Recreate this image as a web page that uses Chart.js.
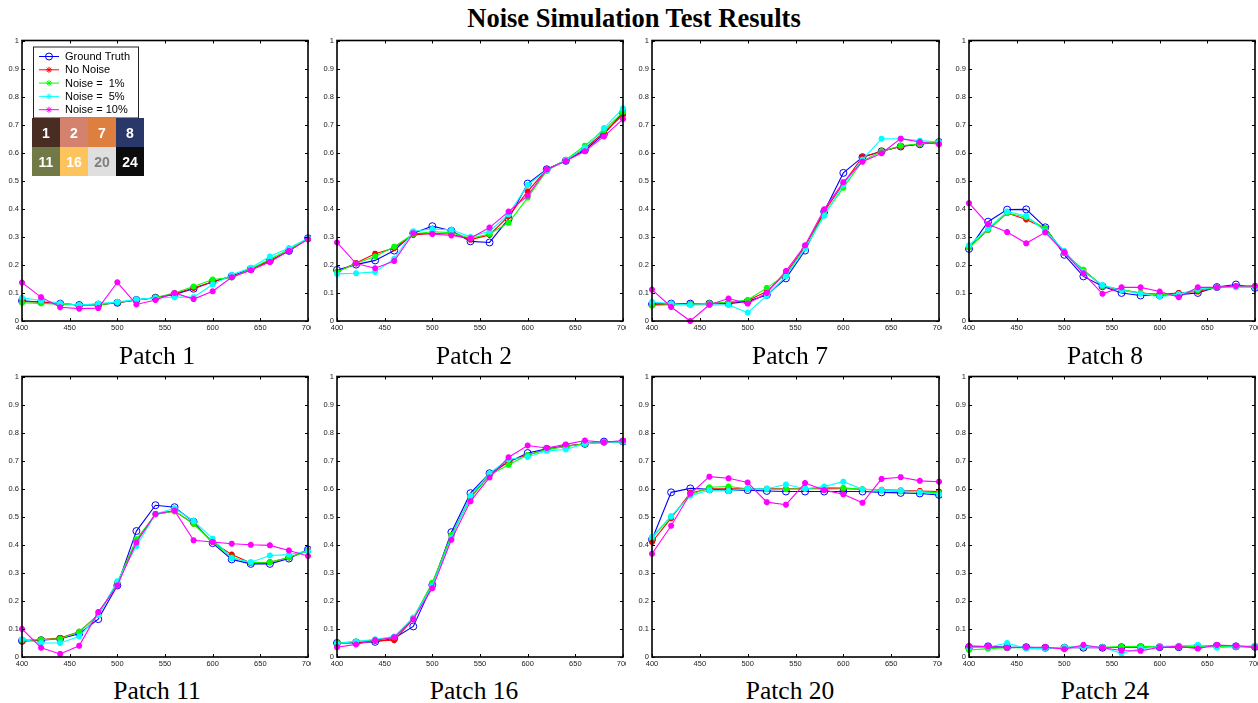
<!DOCTYPE html>
<html>
<head>
<meta charset="utf-8">
<script src="https://cdn.jsdelivr.net/npm/chart.js@4.4.1/dist/chart.umd.min.js"></script>
<style>
  html, body { margin:0; padding:0; background:#fff; }
  body { width:1258px; height:703px; position:relative; overflow:hidden; }
  .wrap { position:absolute; overflow:hidden; }
  .wrap canvas { position:absolute; left:0; top:0; }
  .txt { position:absolute; white-space:pre; line-height:1; color:#000; transform:translateX(-50%); }
  #title { font:bold 26.5px 'Liberation Serif', serif; }
  .plabel { font:25.5px 'Liberation Serif', serif; }
  #swatches { position:absolute; left:32px; top:118px; width:112px; height:58px; display:grid;
              grid-template-columns:repeat(4,28px); grid-template-rows:repeat(2,29px); }
  #swatches div { display:flex; align-items:center; justify-content:center;
                  font:bold 14px 'Liberation Sans', Arial, sans-serif; color:#fff; }
</style>
</head>
<body>
<div id="title" class="txt" style="left:634px; top:3px;">Noise Simulation Test Results</div>
<div id="panels"></div>
<div id="swatches"></div>
<script>
// ---------- data ----------
const wavelengths = [400,420,440,460,480,500,520,540,560,580,600,620,640,660,680,700];
const xTickValues = [400,450,500,550,600,650,700];
const yTickValues = [0,0.1,0.2,0.3,0.4,0.5,0.6,0.7,0.8,0.9,1];
const yTickLabels = ['0','0.1','0.2','0.3','0.4','0.5','0.6','0.7','0.8','0.9','1'];
const xTickLabels = ['400','450','500','550','600','650','700'];
const seriesNames = ['Ground Truth','No Noise','Noise =  1%','Noise =  5%','Noise = 10%'];
const patchNames = ['Patch 1','Patch 2','Patch 7','Patch 8','Patch 11','Patch 16','Patch 20','Patch 24'];
const swatchLabels = ['1','2','7','8','11','16','20','24'];

// Patch 1
const p1_truth = [0.072,0.068,0.062,0.057,0.058,0.065,0.075,0.083,0.095,0.115,0.140,0.160,0.185,0.215,0.250,0.295];
const p1_none  = [0.070,0.067,0.062,0.057,0.058,0.065,0.075,0.083,0.097,0.118,0.140,0.158,0.183,0.215,0.250,0.293];
const p1_n1    = [0.065,0.063,0.060,0.057,0.057,0.066,0.075,0.084,0.100,0.123,0.148,0.155,0.185,0.220,0.255,0.293];
const p1_n5    = [0.083,0.073,0.063,0.057,0.062,0.068,0.077,0.082,0.085,0.085,0.130,0.165,0.190,0.230,0.260,0.295];
const p1_n10   = [0.137,0.085,0.049,0.044,0.046,0.138,0.059,0.075,0.100,0.078,0.106,0.156,0.181,0.210,0.250,0.291];
// Patch 2
const p2_truth = [0.182,0.201,0.216,0.251,0.313,0.338,0.322,0.284,0.280,0.364,0.490,0.541,0.571,0.609,0.666,0.743];
const p2_none  = [0.175,0.207,0.240,0.260,0.307,0.312,0.310,0.290,0.307,0.374,0.462,0.540,0.573,0.615,0.672,0.735];
const p2_n1    = [0.175,0.205,0.230,0.265,0.310,0.318,0.315,0.295,0.310,0.350,0.440,0.535,0.575,0.625,0.680,0.745];
const p2_n5    = [0.168,0.170,0.175,0.222,0.320,0.328,0.325,0.300,0.320,0.380,0.485,0.538,0.573,0.618,0.688,0.758];
const p2_n10   = [0.280,0.205,0.188,0.214,0.313,0.310,0.305,0.295,0.333,0.390,0.447,0.540,0.570,0.605,0.658,0.720];
// Patch 7
const p7_truth = [0.060,0.062,0.062,0.062,0.062,0.070,0.093,0.152,0.251,0.390,0.528,0.584,0.605,0.622,0.630,0.638];
const p7_none  = [0.058,0.060,0.060,0.062,0.065,0.073,0.105,0.170,0.265,0.390,0.490,0.585,0.605,0.622,0.632,0.638];
const p7_n1    = [0.055,0.058,0.060,0.063,0.068,0.075,0.118,0.165,0.260,0.380,0.475,0.570,0.605,0.625,0.632,0.640];
const p7_n5    = [0.068,0.062,0.057,0.057,0.057,0.030,0.090,0.160,0.258,0.375,0.485,0.575,0.650,0.650,0.643,0.638];
const p7_n10   = [0.112,0.050,0.000,0.058,0.080,0.062,0.100,0.178,0.270,0.398,0.495,0.568,0.598,0.650,0.638,0.630];
// Patch 8
const p8_truth = [0.257,0.354,0.397,0.398,0.334,0.236,0.159,0.124,0.100,0.091,0.091,0.094,0.100,0.121,0.130,0.118];
const p8_none  = [0.262,0.325,0.385,0.362,0.330,0.243,0.180,0.125,0.110,0.100,0.095,0.100,0.105,0.120,0.122,0.125];
const p8_n1    = [0.262,0.325,0.385,0.370,0.330,0.243,0.183,0.125,0.112,0.100,0.093,0.095,0.110,0.120,0.122,0.125];
const p8_n5    = [0.270,0.330,0.390,0.375,0.320,0.250,0.175,0.128,0.110,0.097,0.087,0.095,0.115,0.120,0.120,0.120];
const p8_n10   = [0.420,0.345,0.317,0.277,0.316,0.245,0.170,0.097,0.120,0.120,0.105,0.085,0.120,0.120,0.125,0.125];
// Patch 11
const p11_truth = [0.058,0.060,0.065,0.083,0.135,0.255,0.449,0.541,0.534,0.482,0.406,0.348,0.332,0.332,0.351,0.383];
const p11_none  = [0.055,0.062,0.068,0.090,0.150,0.265,0.415,0.510,0.520,0.475,0.410,0.365,0.335,0.338,0.355,0.380];
const p11_n1    = [0.060,0.062,0.065,0.090,0.150,0.265,0.420,0.508,0.520,0.475,0.410,0.355,0.337,0.338,0.355,0.378];
const p11_n5    = [0.063,0.050,0.050,0.073,0.150,0.270,0.395,0.510,0.530,0.485,0.422,0.352,0.338,0.362,0.365,0.378];
const p11_n10   = [0.100,0.033,0.011,0.040,0.160,0.255,0.408,0.510,0.522,0.416,0.410,0.404,0.400,0.398,0.380,0.360];
// Patch 16
const p16_truth = [0.050,0.052,0.054,0.067,0.109,0.257,0.445,0.584,0.655,0.695,0.727,0.742,0.752,0.760,0.768,0.768];
const p16_none  = [0.050,0.050,0.057,0.060,0.135,0.262,0.432,0.570,0.648,0.698,0.720,0.740,0.752,0.760,0.765,0.768];
const p16_n1    = [0.050,0.055,0.060,0.070,0.140,0.265,0.435,0.565,0.648,0.685,0.720,0.740,0.750,0.760,0.765,0.768];
const p16_n5    = [0.048,0.055,0.063,0.073,0.140,0.255,0.425,0.575,0.655,0.705,0.713,0.735,0.740,0.760,0.765,0.767];
const p16_n10   = [0.035,0.045,0.060,0.070,0.135,0.245,0.418,0.555,0.640,0.712,0.754,0.745,0.758,0.772,0.765,0.772];
// Patch 20
const p20_truth = [0.419,0.587,0.601,0.598,0.595,0.595,0.592,0.590,0.590,0.590,0.590,0.590,0.587,0.585,0.583,0.578];
const p20_none  = [0.410,0.495,0.585,0.600,0.600,0.600,0.600,0.600,0.600,0.600,0.600,0.598,0.596,0.594,0.592,0.590];
const p20_n1    = [0.425,0.500,0.578,0.605,0.608,0.600,0.598,0.598,0.600,0.605,0.603,0.598,0.593,0.590,0.588,0.585];
const p20_n5    = [0.428,0.502,0.575,0.595,0.592,0.600,0.600,0.615,0.600,0.608,0.625,0.598,0.595,0.593,0.588,0.580];
const p20_n10   = [0.368,0.468,0.582,0.643,0.637,0.622,0.552,0.543,0.620,0.595,0.580,0.550,0.635,0.641,0.628,0.625];
// Patch 24
const p24_truth = [0.035,0.038,0.035,0.035,0.033,0.033,0.033,0.033,0.035,0.035,0.035,0.035,0.037,0.040,0.038,0.036];
const p24_none  = [0.035,0.035,0.034,0.034,0.034,0.034,0.035,0.034,0.034,0.035,0.036,0.036,0.037,0.038,0.038,0.037];
const p24_n1    = [0.025,0.030,0.033,0.033,0.033,0.035,0.035,0.035,0.037,0.038,0.037,0.037,0.038,0.038,0.037,0.037];
const p24_n5    = [0.035,0.035,0.050,0.030,0.030,0.035,0.037,0.035,0.013,0.030,0.037,0.040,0.043,0.033,0.037,0.040];
const p24_n10   = [0.040,0.037,0.033,0.035,0.035,0.028,0.043,0.033,0.023,0.022,0.035,0.038,0.030,0.043,0.040,0.035];

const patchSeries = [
  [p1_truth, p1_none, p1_n1, p1_n5, p1_n10],
  [p2_truth, p2_none, p2_n1, p2_n5, p2_n10],
  [p7_truth, p7_none, p7_n1, p7_n5, p7_n10],
  [p8_truth, p8_none, p8_n1, p8_n5, p8_n10],
  [p11_truth, p11_none, p11_n1, p11_n5, p11_n10],
  [p16_truth, p16_none, p16_n1, p16_n5, p16_n10],
  [p20_truth, p20_none, p20_n1, p20_n5, p20_n10],
  [p24_truth, p24_none, p24_n1, p24_n5, p24_n10]
];

// ---------- styles / layout ----------
const seriesColors = ['#0000ff','#ff0000','#00ff00','#00ffff','#ff00ff'];
const seriesMarkers = ['circle','star','star','star','star'];
const swatchColors = ['#4a2d22','#d4826d','#dd7f3f','#293868','#717a47','#fdc35c','#dfdfdf','#0c0c0c'];
const swatchTextColors = ['#fff','#fff','#fff','#fff','#fff','#fff','#808080','#fff'];
const colLeft = [22,337,652,969];
const colRight = [308,623,939,1255];
const rowTop = [39,375];
const rowBottom = [321,657];
const labelCenter = [157,474,790,1105];
const labelTop = [341,676];

const sw = document.getElementById('swatches');
swatchLabels.forEach((t,i)=>{
  const d = document.createElement('div');
  d.textContent = t; d.style.background = swatchColors[i]; d.style.color = swatchTextColors[i];
  sw.appendChild(d);
});

const framePlugin = {
  id:'frame',
  afterDatasetsDraw(chart){
    const ctx = chart.ctx, a = chart.chartArea;
    const xs = chart.scales.x, ys = chart.scales.y;
    ctx.save();
    ctx.strokeStyle = '#000';
    ctx.lineWidth = 1;
    const tl = 3;
    ctx.beginPath();
    xs.ticks.forEach(t=>{
      const px = Math.round(xs.getPixelForValue(t.value)) + 0.5;
      ctx.moveTo(px, a.bottom); ctx.lineTo(px, a.bottom - tl);
      ctx.moveTo(px, a.top); ctx.lineTo(px, a.top + tl);
    });
    ys.ticks.forEach(t=>{
      const py = Math.round(ys.getPixelForValue(t.value)) + 0.5;
      ctx.moveTo(a.left, py); ctx.lineTo(a.left + tl, py);
      ctx.moveTo(a.right, py); ctx.lineTo(a.right - tl, py);
    });
    ctx.stroke();
    ctx.lineWidth = 1.6;
    ctx.strokeRect(a.left, a.top, a.right - a.left, a.bottom - a.top);
    ctx.restore();
  }
};

function drawMarker(ctx, style, x, y, r, color){
  ctx.save();
  ctx.strokeStyle = color; ctx.lineWidth = 1;
  ctx.beginPath();
  if (style === 'circle') {
    ctx.arc(x, y, r, 0, Math.PI*2);
  } else {
    for (let k=0;k<4;k++){
      const ang = k*Math.PI/4;
      ctx.moveTo(x - r*Math.cos(ang), y - r*Math.sin(ang));
      ctx.lineTo(x + r*Math.cos(ang), y + r*Math.sin(ang));
    }
  }
  ctx.stroke();
  ctx.restore();
}

const legendPlugin = {
  id:'boxLegend',
  afterDraw(chart){
    const ctx = chart.ctx, a = chart.chartArea;
    const bx = a.left + 11, by = a.top + 6, bw = 105, bh = 71;
    ctx.save();
    ctx.fillStyle = '#fff';
    ctx.fillRect(bx, by, bw, bh);
    ctx.strokeStyle = '#222'; ctx.lineWidth = 1;
    ctx.strokeRect(bx + 0.5, by + 0.5, bw, bh);
    ctx.font = "11px 'Liberation Sans', Arial, sans-serif";
    ctx.textBaseline = 'middle';
    chart.data.datasets.forEach((ds, i)=>{
      const cy = by + 10 + i*13.3;
      ctx.strokeStyle = ds.borderColor; ctx.lineWidth = 1;
      ctx.beginPath(); ctx.moveTo(bx + 6, cy); ctx.lineTo(bx + 26, cy); ctx.stroke();
      drawMarker(ctx, seriesMarkers[i], bx + 16, cy, i===0 ? 3.5 : 3, ds.borderColor);
      ctx.fillStyle = '#000';
      ctx.fillText(ds.label, bx + 32, cy + 0.5);
    });
    ctx.restore();
  }
};

const panelsEl = document.getElementById('panels');
patchSeries.forEach((series, p)=>{
  const c = p % 4, r = Math.floor(p / 4);
  const pl = colLeft[c], pr = colRight[c], pt = rowTop[r], pb = rowBottom[r];
  const wrapW = pr - pl + 22 + 3, wrapH = pb - pt + 6 + 14;
  const wrap = document.createElement('div');
  wrap.className = 'wrap';
  wrap.style.left = (pl - 22) + 'px'; wrap.style.top = (pt - 6) + 'px';
  wrap.style.width = wrapW + 'px'; wrap.style.height = wrapH + 'px';
  const cv = document.createElement('canvas');
  cv.width = wrapW + 10; cv.height = wrapH;
  cv.style.width = (wrapW + 10) + 'px'; cv.style.height = wrapH + 'px';
  wrap.appendChild(cv);
  panelsEl.appendChild(wrap);

  const lbl = document.createElement('div');
  lbl.className = 'txt plabel';
  lbl.textContent = patchNames[p];
  lbl.style.left = labelCenter[c] + 'px';
  lbl.style.top = labelTop[r] + 'px';
  document.body.appendChild(lbl);

  const datasets = series.map((vals, i)=>({
    label: seriesNames[i],
    data: wavelengths.map((w, k)=>({x: w, y: vals[k]})),
    borderColor: seriesColors[i],
    backgroundColor: i === 0 ? 'rgba(0,0,0,0)' : seriesColors[i],
    borderWidth: 1.1,
    pointStyle: seriesMarkers[i],
    pointRadius: i === 0 ? 3.5 : 3,
    pointBorderWidth: i === 0 ? 1 : 2,
    pointBorderColor: seriesColors[i],
    pointBackgroundColor: i === 0 ? 'rgba(0,0,0,0)' : seriesColors[i],
    tension: 0,
    clip: false,
    order: 5 - i
  }));

  const tickFont = {family:"'Liberation Sans', Arial, sans-serif", size:7.5};
  new Chart(cv, {
    type:'line',
    data:{ datasets },
    options:{
      responsive:false, maintainAspectRatio:false, animation:false, events:[],
      layout:{ padding:{ left:0, top:6, right:13, bottom:0 } },
      plugins:{ legend:{display:false}, tooltip:{enabled:false}, title:{display:false} },
      scales:{
        x:{
          type:'linear', min:400, max:700,
          grid:{display:false, drawTicks:false}, border:{display:false},
          afterBuildTicks(s){ s.ticks = xTickValues.map(v=>({value:v})); },
          afterFit(s){ s.height = 14; },
          ticks:{ font:tickFont, color:'#222', padding:2, maxRotation:0, autoSkip:false,
                  callback:(v)=>xTickLabels[xTickValues.indexOf(v)] }
        },
        y:{
          type:'linear', min:0, max:1,
          grid:{display:false, drawTicks:false}, border:{display:false},
          afterBuildTicks(s){ s.ticks = yTickValues.map(v=>({value:v})); },
          afterFit(s){ s.width = 22; },
          ticks:{ font:tickFont, color:'#222', padding:3, autoSkip:false,
                  callback:(v)=>yTickLabels[yTickValues.findIndex(t=>Math.abs(t-v)<1e-9)] }
        }
      }
    },
    plugins: p === 0 ? [framePlugin, legendPlugin] : [framePlugin]
  });
});
</script>
</body>
</html>
